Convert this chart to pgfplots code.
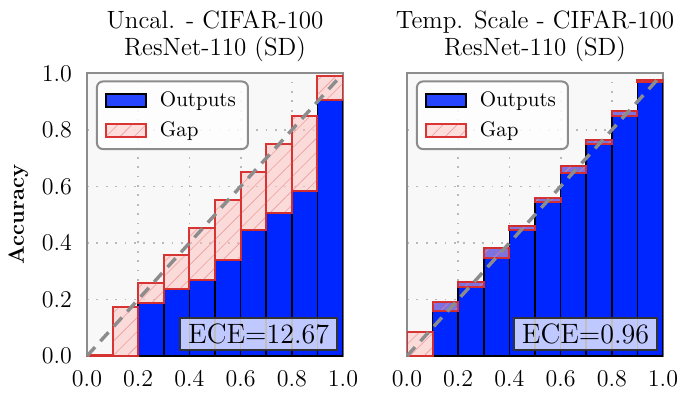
\documentclass[border=0pt]{standalone}
\usepackage{pgfplots}
\usepackage{pgfplotstable}
\pgfplotsset{compat=1.18}
\usetikzlibrary{patterns.meta}

\definecolor{outblue}{RGB}{0,38,255}
\definecolor{gapfill}{RGB}{255,190,190}
\definecolor{gapedge}{RGB}{215,45,45}
\definecolor{hatch}{RGB}{235,140,140}
\definecolor{bgc}{RGB}{248,248,248}
\definecolor{framec}{RGB}{140,140,140}

\pgfplotstableread{
x acc
0.25 0.189
0.35 0.236
0.45 0.269
0.55 0.338
0.65 0.445
0.75 0.507
0.85 0.585
0.95 0.906
}\leftout
\pgfplotstableread{
x base gap
0.05 0 0.002
0.15 0 0.175
0.25 0.189 0.070
0.35 0.236 0.121
0.45 0.269 0.185
0.55 0.338 0.213
0.65 0.445 0.205
0.75 0.507 0.243
0.85 0.585 0.266
0.95 0.906 0.085
}\leftgap
\pgfplotstableread{
x acc
0.15 0.190
0.25 0.263
0.35 0.383
0.45 0.460
0.55 0.558
0.65 0.673
0.75 0.764
0.85 0.867
0.95 0.976
}\rightout
\pgfplotstableread{
x base gap
0.05 0 0.084
0.15 0.160 0.030
0.25 0.245 0.018
0.35 0.346 0.037
0.45 0.446 0.014
0.55 0.544 0.014
0.65 0.646 0.027
0.75 0.749 0.015
0.85 0.851 0.016
0.95 0.968 0.008
}\rightgap

\pgfplotsset{
  geom/.style={scale only axis, width=128pt, height=141.3pt,
    xmin=0, xmax=1, ymin=0, ymax=1},
  outstyle/.style={fill=outblue, draw=black, line width=0.8pt},
  gapstyle/.style={fill=gapfill, fill opacity=0.5, draw=gapedge, draw opacity=0.8, line width=1pt,
    postaction={pattern={Lines[angle=45,distance=5pt,line width=0.3pt]}, pattern color=hatch}},
  frameaxis/.style={geom,
    axis background/.style={fill=bgc},
    axis line style={framec, line width=1pt},
    xtick={0,0.2,0.4,0.6,0.8,1}, ytick={0,0.2,0.4,0.6,0.8,1},
    major tick length=0pt,
    grid=major,
    grid style={color=black!28, line width=0.9pt, dash pattern=on 0.9pt off 3.8pt},
    tick label style={font=\fontsize{11.5}{13}\selectfont},
    xticklabel style={yshift=-4pt, /pgf/number format/.cd, fixed, fixed zerofill, precision=1},
    yticklabel style={xshift=-4pt, /pgf/number format/.cd, fixed, fixed zerofill, precision=1},
    title style={align=center, font=\fontsize{12.5}{13.5}\selectfont, yshift=-3.5pt},
    ybar, bar width=0.1,
  },
  topaxis/.style={geom, hide axis,
    legend style={at={(0.035,0.975)}, anchor=north west, draw=framec, line width=1pt,
      rounded corners=3pt, fill=white, fill opacity=0.85, text opacity=1,
      font=\fontsize{10.5}{12}\selectfont, row sep=2pt, inner xsep=4pt, inner ysep=3pt},
    legend cell align=left,
    legend image code/.code={\draw[sharp corners, ##1] (0pt,-3.25pt) rectangle (20pt,3.25pt);
      \pgfpathrectangle{\pgfpoint{0pt}{-3.25pt}}{\pgfpoint{25pt}{6.5pt}}\pgfusepath{discard}},
  },
}

\begin{document}
\begin{tikzpicture}
\useasboundingbox (-43.5pt,-21pt) rectangle (306.5pt,178pt);
% ---------- left panel ----------
\begin{axis}[frameaxis, title={Uncal. - CIFAR-100\\ResNet-110 (SD)},
  ylabel={\textbf{Accuracy}}, ylabel style={font=\fontsize{11}{13}\selectfont}]
\addplot[outstyle] table[x=x, y=acc] {\leftout};
\end{axis}
\begin{axis}[geom, hide axis, ybar stacked, bar width=0.1]
\addplot[draw=none, fill=none] table[x=x, y=base] {\leftgap};
\addplot[gapstyle] table[x=x, y=gap] {\leftgap};
\end{axis}
\begin{axis}[topaxis]
\addlegendimage{outstyle}
\addlegendentry{Outputs}
\addlegendimage{gapstyle}
\addlegendentry{Gap}
\addplot[color=black!45, line width=1.7pt, dash pattern=on 6pt off 4pt] coordinates {(0,0) (1,1)};
\node[anchor=south east, fill=white, fill opacity=0.75, text opacity=1, draw=black!80,
  line width=0.8pt, font=\fontsize{14}{16}\selectfont, inner xsep=4pt, inner ysep=3pt]
  at (rel axis cs:0.98,0.018) {ECE=12.67};
\end{axis}
% ---------- right panel ----------
\begin{axis}[frameaxis, at={(160pt,0)}, title={Temp. Scale - CIFAR-100\\ResNet-110 (SD)},
  yticklabels={}]
\addplot[outstyle] table[x=x, y=acc] {\rightout};
\end{axis}
\begin{axis}[geom, at={(160pt,0)}, hide axis, ybar stacked, bar width=0.1]
\addplot[draw=none, fill=none] table[x=x, y=base] {\rightgap};
\addplot[gapstyle] table[x=x, y=gap] {\rightgap};
\end{axis}
\begin{axis}[topaxis, at={(160pt,0)}]
\addlegendimage{outstyle}
\addlegendentry{Outputs}
\addlegendimage{gapstyle}
\addlegendentry{Gap}
\addplot[color=black!45, line width=1.7pt, dash pattern=on 6pt off 4pt] coordinates {(0,0) (1,1)};
\node[anchor=south east, fill=white, fill opacity=0.75, text opacity=1, draw=black!80,
  line width=0.8pt, font=\fontsize{14}{16}\selectfont, inner xsep=4pt, inner ysep=3pt]
  at (rel axis cs:0.98,0.018) {ECE=0.96};
\end{axis}
\end{tikzpicture}
\end{document}
